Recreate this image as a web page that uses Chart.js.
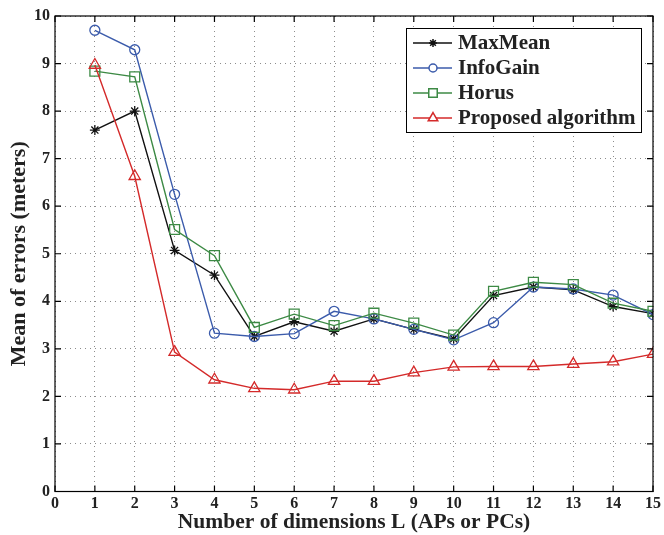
<!DOCTYPE html>
<html>
<head>
<meta charset="utf-8">
<script src="https://cdn.jsdelivr.net/npm/chart.js@4.4.1/dist/chart.umd.min.js"></script>
<style>
  body { margin: 0; background: #fff; }
  #wrap { width: 664px; height: 535px; }
</style>
</head>
<body>
<div id="wrap"><canvas id="errChart" width="664" height="535"></canvas></div>
<script>
// dimensions L (x)
const dims = [1, 2, 3, 4, 5, 6, 7, 8, 9, 10, 11, 12, 13, 14, 15];

// mean of errors (meters)
const maxMean  = [7.60, 8.00, 5.07, 4.55, 3.26, 3.57, 3.37, 3.63, 3.41, 3.21, 4.12, 4.30, 4.24, 3.89, 3.74];
const infoGain = [9.70, 9.29, 6.25, 3.33, 3.26, 3.32, 3.79, 3.63, 3.41, 3.19, 3.55, 4.30, 4.26, 4.13, 3.72];
const horus    = [8.84, 8.72, 5.51, 4.96, 3.45, 3.73, 3.49, 3.75, 3.54, 3.29, 4.21, 4.40, 4.35, 3.96, 3.79];
const proposed = [8.97, 6.63, 2.93, 2.35, 2.17, 2.14, 2.32, 2.32, 2.50, 2.62, 2.63, 2.63, 2.68, 2.73, 2.89];

const xTicks = [0, 1, 2, 3, 4, 5, 6, 7, 8, 9, 10, 11, 12, 13, 14, 15];
const yTicks = [0, 1, 2, 3, 4, 5, 6, 7, 8, 9, 10];

const serif = '"Liberation Serif", "DejaVu Serif", serif';

function pts(vals) {
    return vals.map((v, i) => ({ x: dims[i], y: v }));
}

const series = [
    { label: 'MaxMean', data: maxMean, color: '#111111', style: 'star', radius: 5 },
    { label: 'InfoGain', data: infoGain, color: '#3b5bab', style: 'circle', radius: 5 },
    { label: 'Horus', data: horus, color: '#3d8a45', style: 'rect', radius: 7 },
    { label: 'Proposed algorithm', data: proposed, color: '#d42a2a', style: 'triangle', radius: 6.5 }
];

// box, inward ticks and matlab style legend
const boxPlugin = {
    id: 'boxPlugin',
    afterDraw(chart) {
        const c = chart.ctx;
        const a = chart.chartArea;
        const xs = chart.scales.x, ys = chart.scales.y;
        c.save();
        c.strokeStyle = '#000';
        c.lineWidth = 1.2;
        c.strokeRect(a.left, a.top, a.right - a.left, a.bottom - a.top);
        c.beginPath();
        xTicks.forEach(t => {
            const px = xs.getPixelForValue(t);
            c.moveTo(px, a.bottom); c.lineTo(px, a.bottom - 6);
            c.moveTo(px, a.top); c.lineTo(px, a.top + 6);
        });
        yTicks.forEach(t => {
            const py = ys.getPixelForValue(t);
            c.moveTo(a.left, py); c.lineTo(a.left + 6, py);
            c.moveTo(a.right, py); c.lineTo(a.right - 6, py);
        });
        c.stroke();

        // legend
        const lx = 406, ly = 28, lw = 235, lh = 104;
        c.fillStyle = '#fff';
        c.fillRect(lx, ly, lw, lh);
        c.strokeStyle = '#000';
        c.lineWidth = 1;
        c.strokeRect(lx + 0.5, ly + 0.5, lw, lh);
        c.font = 'bold 21px ' + serif;
        c.textBaseline = 'middle';
        series.forEach((s, i) => {
            const yy = ly + 15 + i * 25;
            c.strokeStyle = s.color;
            c.lineWidth = 1.5;
            c.beginPath();
            c.moveTo(lx + 7, yy); c.lineTo(lx + 46, yy);
            c.stroke();
            c.fillStyle = '#fff';
            Chart.helpers.drawPoint(c, { pointStyle: s.style, radius: s.radius - 1, rotation: 0, borderWidth: 1.3 }, lx + 27, yy);
            c.fillStyle = '#222';
            c.fillText(s.label, lx + 52, yy + 1);
        });
        c.restore();
    }
};

const ctx = document.getElementById('errChart').getContext('2d');

const errChart = new Chart(ctx, {
    type: 'line',
    data: {
        datasets: series.map((s, i) => ({
            label: s.label,
            data: pts(s.data),
            borderColor: s.color,
            backgroundColor: 'rgba(255,255,255,0)',
            pointBorderColor: s.color,
            pointBackgroundColor: 'rgba(255,255,255,0)',
            pointStyle: s.style,
            pointRadius: s.radius,
            pointBorderWidth: 1.3,
            borderWidth: 1.4,
            tension: 0,
            order: series.length - i
        }))
    },
    options: {
        responsive: false,
        animation: false,
        layout: { padding: { top: 16, right: 6, left: 0, bottom: 0 } },
        plugins: {
            legend: { display: false },
            tooltip: { enabled: false }
        },
        scales: {
            x: {
                type: 'linear',
                min: 0,
                max: 15,
                afterBuildTicks: (axis) => { axis.ticks = xTicks.map(v => ({ value: v })); },
                afterFit: (axis) => { axis.height = 43.5; },
                grid: { color: '#8c8c8c', lineWidth: 1, drawTicks: false },
                border: { display: false, dash: [1, 4] },
                ticks: {
                    color: '#222',
                    font: { family: serif, size: 16, weight: 'bold' },
                    padding: 3,
                    maxRotation: 0
                },
                title: {
                    display: true,
                    text: 'Number of dimensions L (APs or PCs)',
                    color: '#222',
                    font: { family: serif, size: 21.5, weight: 'bold' },
                    padding: { top: 0, bottom: 0 }
                }
            },
            y: {
                type: 'linear',
                min: 0,
                max: 10,
                afterBuildTicks: (axis) => { axis.ticks = yTicks.map(v => ({ value: v })); },
                afterFit: (axis) => { axis.width = 55; },
                grid: { color: '#8c8c8c', lineWidth: 1, drawTicks: false },
                border: { display: false, dash: [1, 4] },
                ticks: {
                    color: '#222',
                    font: { family: serif, size: 16, weight: 'bold' },
                    padding: 5
                },
                title: {
                    display: true,
                    text: 'Mean of errors (meters)',
                    color: '#222',
                    font: { family: serif, size: 22, weight: 'bold' },
                    padding: { top: 6, bottom: 0 }
                }
            }
        }
    },
    plugins: [boxPlugin]
});
</script>
</body>
</html>
